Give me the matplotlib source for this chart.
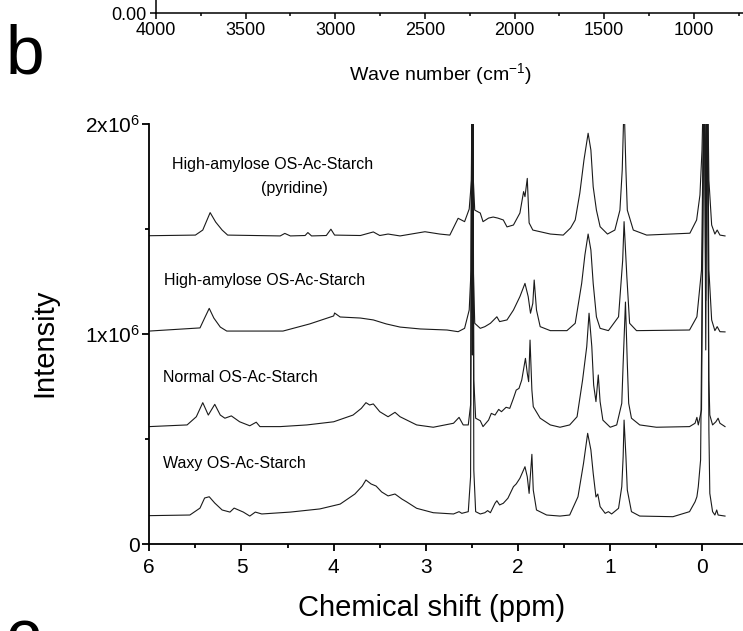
import matplotlib
matplotlib.use("Agg")
import matplotlib.pyplot as plt
import matplotlib.ticker as plt_ticker

plt.rcParams["font.family"] = ["Liberation Sans", "DejaVu Sans"]
plt.rcParams["mathtext.fontset"] = "custom"
plt.rcParams["mathtext.rm"] = "Liberation Sans"
plt.rcParams["mathtext.it"] = "Liberation Sans:italic"
plt.rcParams["mathtext.bf"] = "Liberation Sans:bold"

# 1H NMR traces, chemical shift (ppm) vs intensity (x10^6)
pyr_ppm = [6.00, 5.50, 5.42, 5.34, 5.28, 5.21, 5.15, 4.58, 4.53, 4.47, 4.31, 4.28, 4.24,
           4.08, 4.03, 3.99, 3.71, 3.57, 3.50, 3.41, 3.28, 3.01, 2.85, 2.74, 2.65, 2.58,
           2.53, 2.505, 2.50, 2.495, 2.49, 2.485, 2.47, 2.41, 2.38, 2.32, 2.27, 2.22, 2.16,
           2.12, 2.05, 1.98, 1.94, 1.925, 1.90, 1.88, 1.84, 1.65, 1.51, 1.43, 1.38, 1.33,
           1.285, 1.24, 1.21, 1.185, 1.15, 1.11, 1.03, 0.95, 0.895, 0.87, 0.85, 0.83, 0.815,
           0.75, 0.605, 0.136, 0.063, 0.027, 0.005, -0.02, -0.036, -0.052, -0.07, -0.10,
           -0.135, -0.16, -0.19, -0.245]
pyr_int = [1.468, 1.471, 1.495, 1.578, 1.533, 1.495, 1.471, 1.467, 1.479, 1.467, 1.469, 1.483,
           1.467, 1.469, 1.499, 1.471, 1.469, 1.486, 1.469, 1.476, 1.467, 1.487, 1.476, 1.471,
           1.551, 1.535, 1.595, 1.733, 2.35, 1.80, 2.35, 1.733, 1.590, 1.576, 1.535, 1.552,
           1.557, 1.552, 1.543, 1.510, 1.519, 1.576, 1.678, 1.654, 1.741, 1.529, 1.495, 1.476,
           1.471, 1.505, 1.543, 1.671, 1.829, 1.956, 1.876, 1.701, 1.590, 1.511, 1.476, 1.495,
           1.590, 1.781, 2.11, 1.781, 1.590, 1.495, 1.471, 1.480, 1.543, 1.662, 1.876, 2.35,
           1.64, 2.35, 1.733, 1.519, 1.476, 1.495, 1.471, 1.467]

ha_ppm = [6.00, 5.45, 5.40, 5.35, 5.30, 5.23, 5.16, 4.55, 4.26, 4.00, 3.99, 3.93, 3.71, 3.57,
          3.43, 3.28, 3.06, 2.77, 2.65, 2.58, 2.53, 2.51, 2.50, 2.495, 2.49, 2.485, 2.47, 2.41,
          2.36, 2.30, 2.23, 2.20, 2.12, 2.05, 1.98, 1.925, 1.89, 1.865, 1.84, 1.825, 1.80,
          1.76, 1.65, 1.47, 1.38, 1.31, 1.275, 1.24, 1.21, 1.185, 1.15, 1.11, 1.02, 0.91,
          0.865, 0.85, 0.82, 0.79, 0.715, 0.14, 0.06, 0.01, -0.02, -0.036, -0.052, -0.07,
          -0.10, -0.135, -0.16, -0.19, -0.245]
ha_int = [1.014, 1.029, 1.076, 1.122, 1.076, 1.033, 1.014, 1.014, 1.048, 1.086, 1.100, 1.081,
          1.076, 1.067, 1.048, 1.033, 1.024, 1.019, 1.011, 1.027, 1.114, 1.305, 2.35, 1.40,
          2.35, 1.305, 1.051, 1.027, 1.035, 1.051, 1.082, 1.059, 1.067, 1.114, 1.178, 1.241,
          1.178, 1.099, 1.146, 1.257, 1.114, 1.035, 1.016, 1.016, 1.051, 1.241, 1.376, 1.476,
          1.400, 1.241, 1.082, 1.027, 1.016, 1.082, 1.352, 1.535, 1.273, 1.051, 1.016, 1.019,
          1.082, 1.305, 2.35, 1.50, 2.35, 1.305, 1.067, 1.016, 1.035, 1.011, 1.010]

normal_ppm = [6.00, 5.59, 5.49, 5.42, 5.36, 5.29, 5.23, 5.18, 5.11, 5.02, 4.91, 4.84, 4.80,
              4.58, 4.29, 4.00, 3.79, 3.70, 3.65, 3.61, 3.57, 3.50, 3.41, 3.335, 3.28, 3.10,
              2.92, 2.70, 2.64, 2.595, 2.54, 2.515, 2.50, 2.495, 2.49, 2.48, 2.46, 2.41, 2.38,
              2.32, 2.29, 2.25, 2.21, 2.18, 2.13, 2.09, 2.05, 2.02, 1.99, 1.96, 1.92, 1.90,
              1.885, 1.87, 1.85, 1.835, 1.76, 1.65, 1.545, 1.44, 1.36, 1.30, 1.255, 1.23, 1.20,
              1.18, 1.155, 1.13, 1.11, 1.08, 1.00, 0.93, 0.875, 0.86, 0.835, 0.815, 0.80, 0.77,
              0.68, 0.50, 0.14, 0.08, 0.06, 0.045, 0.01, -0.02, -0.036, -0.052, -0.07, -0.08,
              -0.11, -0.146, -0.17, -0.19, -0.245]
normal_int = [0.559, 0.567, 0.606, 0.673, 0.614, 0.665, 0.614, 0.599, 0.610, 0.582, 0.563,
              0.580, 0.559, 0.559, 0.567, 0.582, 0.614, 0.646, 0.673, 0.662, 0.667, 0.630,
              0.606, 0.627, 0.606, 0.567, 0.556, 0.575, 0.603, 0.567, 0.567, 0.662, 2.35,
              1.10, 2.35, 0.781, 0.599, 0.587, 0.559, 0.590, 0.622, 0.614, 0.641, 0.630,
              0.651, 0.646, 0.694, 0.733, 0.741, 0.781, 0.884, 0.813, 0.773, 0.971, 0.733,
              0.654, 0.599, 0.567, 0.556, 0.567, 0.606, 0.781, 0.940, 1.099, 0.940, 0.757,
              0.678, 0.805, 0.678, 0.590, 0.556, 0.567, 0.670, 0.860, 1.152, 0.860, 0.670,
              0.599, 0.567, 0.556, 0.559, 0.575, 0.603, 0.567, 0.638, 2.35, 1.16, 2.35, 0.781,
              0.614, 0.567, 0.582, 0.599, 0.575, 0.559]

waxy_ppm = [6.00, 5.56, 5.45, 5.40, 5.35, 5.29, 5.21, 5.125, 5.08, 4.98, 4.91, 4.85, 4.78,
            4.47, 4.15, 3.93, 3.77, 3.69, 3.65, 3.595, 3.54, 3.48, 3.41, 3.335, 3.26, 3.21,
            3.10, 2.92, 2.70, 2.64, 2.61, 2.54, 2.515, 2.50, 2.495, 2.49, 2.48, 2.46, 2.41,
            2.36, 2.33, 2.30, 2.25, 2.23, 2.20, 2.16, 2.11, 2.05, 2.02, 1.98, 1.925, 1.90,
            1.88, 1.85, 1.835, 1.80, 1.69, 1.545, 1.44, 1.35, 1.29, 1.245, 1.21, 1.185, 1.155,
            1.135, 1.11, 1.055, 1.02, 0.985, 0.91, 0.875, 0.86, 0.85, 0.83, 0.815, 0.77, 0.68,
            0.32, 0.14, 0.08, 0.06, 0.045, 0.02, -0.02, -0.036, -0.052, -0.07, -0.08, -0.11,
            -0.135, -0.155, -0.17, -0.245]
waxy_int = [0.135, 0.138, 0.171, 0.219, 0.225, 0.195, 0.162, 0.152, 0.171, 0.152, 0.133,
            0.152, 0.143, 0.152, 0.167, 0.190, 0.238, 0.276, 0.305, 0.286, 0.276, 0.248,
            0.229, 0.238, 0.214, 0.201, 0.170, 0.149, 0.143, 0.154, 0.146, 0.154, 0.320,
            2.35, 0.90, 2.35, 0.352, 0.154, 0.143, 0.149, 0.159, 0.149, 0.194, 0.206, 0.186,
            0.194, 0.218, 0.273, 0.286, 0.313, 0.368, 0.320, 0.241, 0.427, 0.257, 0.162,
            0.138, 0.133, 0.138, 0.225, 0.384, 0.527, 0.448, 0.337, 0.224, 0.238, 0.178,
            0.146, 0.154, 0.143, 0.170, 0.273, 0.416, 0.590, 0.416, 0.257, 0.154, 0.133,
            0.130, 0.154, 0.201, 0.225, 0.273, 0.400, 2.35, 0.924, 2.35, 0.543, 0.241, 0.154,
            0.138, 0.162, 0.138, 0.133]

sample_names = ["High-amylose OS-Ac-Starch", "High-amylose OS-Ac-Starch",
                "Normal OS-Ac-Starch", "Waxy OS-Ac-Starch"]
solvent_note = "(pyridine)"

fig = plt.figure(figsize=(7.43, 6.31), dpi=100)

# --- bottom edge of the FTIR panel above (cut off in the source) ---
ax_a = fig.add_axes([156 / 743, 1 - 13 / 631, 1 - 156 / 743, 0.2])
ax_a.set_xlim(4000, 726)
ax_a.set_ylim(0, 1)
ax_a.set_yticks([0])
ax_a.yaxis.set_major_formatter(plt_ticker.FormatStrFormatter("%.2f"))
ax_a.xaxis.set_major_locator(plt_ticker.MultipleLocator(500))
ax_a.xaxis.set_minor_locator(plt_ticker.MultipleLocator(250))
ax_a.spines["top"].set_visible(False)
ax_a.spines["right"].set_visible(False)
for s in ("left", "bottom"):
    ax_a.spines[s].set_linewidth(1.1)
ax_a.tick_params(which="major", direction="out", length=4.5, width=1.1, labelsize=13, pad=2)
ax_a.tick_params(which="minor", direction="out", length=2.5, width=1.1)
ax_a.set_xlabel("Wave number (cm$^{-1}$)", fontsize=14)
ax_a.xaxis.label.set_va("center")
ax_a.xaxis.set_label_coords((440 - 156) / (743 - 156), -61 / 126)

# --- panel b: NMR spectra ---
ax = fig.add_axes([149.3 / 743, 1 - 544 / 631, 1 - 149.3 / 743, 420 / 631])
scale = 1e6
for xs, ys in [(waxy_ppm, waxy_int), (normal_ppm, normal_int), (ha_ppm, ha_int), (pyr_ppm, pyr_int)]:
    ax.plot(xs, [v * scale for v in ys], color="#1a1a1a", lw=0.8)

ax.set_xlim(6, -0.44)
ax.set_ylim(0, 2e6)
ax.set_xticks([6, 5, 4, 3, 2, 1, 0])
ax.xaxis.set_minor_locator(plt_ticker.MultipleLocator(0.5))
ax.set_yticks([0, 1e6, 2e6])
ax.set_yticklabels(["0", r"1x10$^{\mathregular{6}}$", r"2x10$^{\mathregular{6}}$"])
ax.yaxis.set_minor_locator(plt_ticker.MultipleLocator(0.5e6))
ax.spines["top"].set_visible(False)
ax.spines["right"].set_visible(False)
for s in ("left", "bottom"):
    ax.spines[s].set_linewidth(1.3)
ax.tick_params(which="major", direction="out", length=5, width=1.3, labelsize=15, pad=5)
ax.tick_params(axis="y", which="major", pad=2)
ax.tick_params(which="minor", direction="out", length=3, width=1.3)
ax.set_xlabel("Chemical shift (ppm)", fontsize=21)
ax.xaxis.label.set_va("center")
ax.xaxis.set_label_coords((432 - 149.3) / (743 - 149.3), -(608 - 544) / 420)
ax.set_ylabel("Intensity", fontsize=21)
ax.yaxis.label.set_va("center")
ax.yaxis.set_label_coords(-(149.3 - 44) / (743 - 149.3), 0.5 - (343 - 334) / 420)

ax.text(5.757, 1.805e6, sample_names[0], fontsize=11.5, va="center", ha="left")
ax.text(4.43, 1.695e6, solvent_note, fontsize=11.5, va="center", ha="center")
ax.text(5.84, 1.257e6, sample_names[1], fontsize=11.5, va="center", ha="left")
ax.text(5.855, 0.794e6, sample_names[2], fontsize=11.5, va="center", ha="left")
ax.text(5.855, 0.384e6, sample_names[3], fontsize=11.5, va="center", ha="left")

# panel letters
fig.text(6 / 743, 1 - 73 / 631, "b", fontsize=50, ha="left", va="baseline")
fig.text(6 / 743, 1 - 657 / 631, "c", fontsize=50, ha="left", va="baseline")

fig.savefig("out.png", dpi=100)
